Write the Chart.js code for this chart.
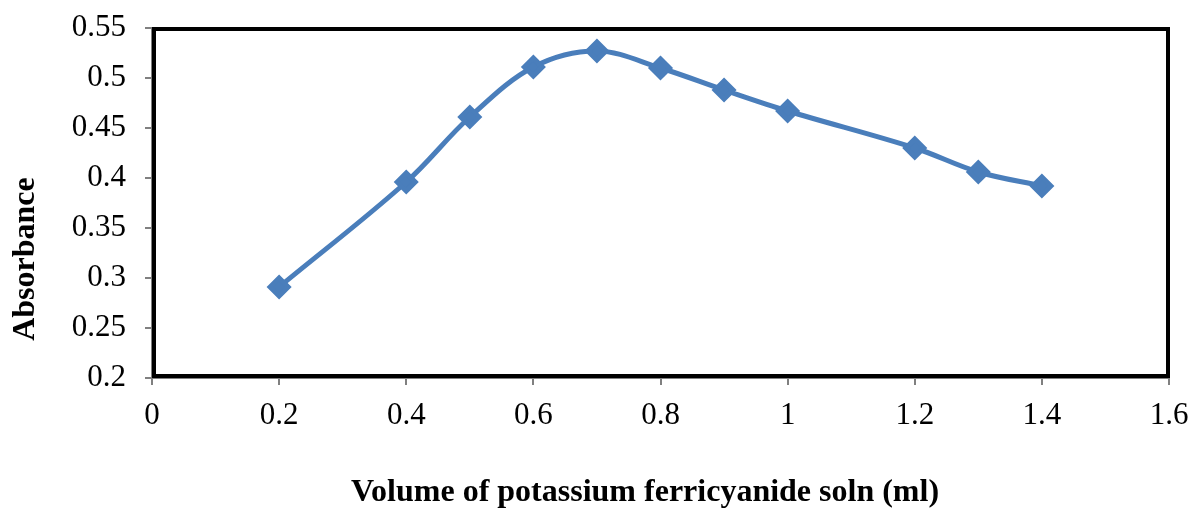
<!DOCTYPE html>
<html>
<head>
<meta charset="utf-8">
<script src="https://cdn.jsdelivr.net/npm/chart.js@4/dist/chart.umd.min.js"></script>
<style>
  html, body { margin: 0; padding: 0; background: #fff; }
  #grafico { width: 1190px; height: 509px; }
</style>
</head>
<body>
<div id="grafico"><canvas id="myChart" width="1190" height="509"></canvas></div>
<script>
// volume (ml) e absorbancia
const volumes = [0.2, 0.4, 0.5, 0.6, 0.7, 0.8, 0.9, 1.0, 1.2, 1.3, 1.4];
const absorbancias = [0.291, 0.396, 0.461, 0.511, 0.527, 0.510, 0.488, 0.467, 0.430, 0.406, 0.392];
const ticksX = [0, 0.2, 0.4, 0.6, 0.8, 1, 1.2, 1.4, 1.6];
const ticksY = [0.2, 0.25, 0.3, 0.35, 0.4, 0.45, 0.5, 0.55];
const tituloX = 'Volume of potassium ferricyanide soln (ml)';
const tituloY = 'Absorbance';

const fonte = "'Liberation Serif', 'Times New Roman', serif";
const azul = '#4A7EBB';

// borda preta da area do grafico e titulos dos eixos
const bordaETitulos = {
    id: 'bordaETitulos',
    afterDraw(chart) {
        const { ctx, chartArea } = chart;
        ctx.save();
        ctx.strokeStyle = '#000';
        ctx.lineWidth = 4;
        ctx.strokeRect(chartArea.left + 2, chartArea.top + 1, chartArea.right - chartArea.left - 3, chartArea.bottom - chartArea.top - 3);

        ctx.fillStyle = '#000';
        ctx.font = "bold 32px " + fonte;
        ctx.textAlign = 'center';
        ctx.textBaseline = 'middle';
        ctx.fillText(tituloX, 645, 493);

        ctx.translate(26, 259);
        ctx.rotate(-Math.PI / 2);
        ctx.fillText(tituloY, 0, 0);
        ctx.restore();
    }
};

Chart.defaults.font.family = fonte;
Chart.defaults.color = '#000';

const ctx = document.querySelector("#myChart");
new Chart(ctx, {
    type: 'line',
    data: {
        datasets: [{
            label: 'Absorbance',
            data: volumes.map((v, i) => ({ x: v, y: absorbancias[i] })),
            borderColor: azul,
            backgroundColor: azul,
            borderWidth: 5,
            tension: 0.35,
            pointStyle: 'rectRot',
            pointRadius: 9,
            pointHoverRadius: 9
        }]
    },
    options: {
        responsive: false,
        animation: false,
        layout: { padding: { top: 28, right: 21, left: 0, bottom: 0 } },
        plugins: { legend: { display: false }, tooltip: { enabled: false } },
        scales: {
            x: {
                type: 'linear',
                min: 0,
                max: 1.6,
                afterBuildTicks(scale) { scale.ticks = ticksX.map(v => ({ value: v })); },
                afterFit(scale) { scale.height = 131; scale.paddingLeft = 0; scale.paddingRight = 0; },
                grid: { drawOnChartArea: false, drawTicks: true, tickLength: 7, color: '#808080', lineWidth: 2 },
                border: { color: '#808080', width: 2 },
                ticks: { font: { size: 31 }, padding: 12, maxRotation: 0, callback: v => String(+v.toFixed(2)) },
                title: { display: false }
            },
            y: {
                min: 0.2,
                max: 0.55,
                afterBuildTicks(scale) { scale.ticks = ticksY.map(v => ({ value: v })); },
                afterFit(scale) { scale.width = 152; scale.paddingTop = 0; scale.paddingBottom = 0; },
                grid: { drawOnChartArea: false, drawTicks: true, tickLength: 7, color: '#808080', lineWidth: 2 },
                border: { color: '#808080', width: 2 },
                ticks: { font: { size: 31 }, padding: 19, callback: v => String(+v.toFixed(2)) },
                title: { display: false }
            }
        }
    },
    plugins: [bordaETitulos]
});
</script>
</body>
</html>
